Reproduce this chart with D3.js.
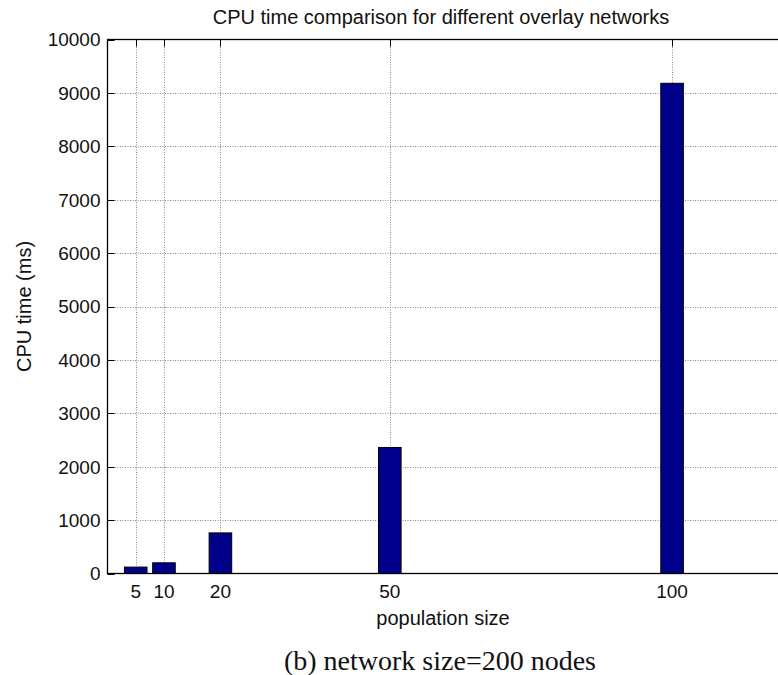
<!DOCTYPE html>
<html>
<head>
<meta charset="utf-8">
<script src="https://cdn.jsdelivr.net/npm/d3@7"></script>
<style>
  body { margin: 0; background: white; }
  text { font-family: "Liberation Sans", Arial, sans-serif; fill: #111; }
</style>
</head>
<body>
<div id="container"></div>
<script>
// data
let populationSizes = [5, 10, 20, 50, 100];
let cpuTimes = [120, 200, 760, 2360, 9180];
let yTickValues = [0, 1000, 2000, 3000, 4000, 5000, 6000, 7000, 8000, 9000, 10000];

let w = 778;
let h = 675;

let viz = d3.select("#container")
  .append("svg")
    .attr("width", w)
    .attr("height", h)
    .style("background-color", "white")
;

// axes box (right edge falls just outside the picture)
let plotLeft = 107.5, plotRight = 785, plotTop = 39.5, plotBottom = 573.5;

let xScale = d3.scaleLinear().domain([0, 120]).range([plotLeft, plotRight]);
let yScale = d3.scaleLinear().domain([0, 10000]).range([plotBottom, plotTop]);

let barWidth = 4; // in data units

let data = populationSizes.map(function(p, i) {
  return {pop: p, time: cpuTimes[i]};
});

// grid lines
let grid = viz.append("g").attr("class", "grid");
grid.selectAll(".hgrid").data(yTickValues.slice(1, -1)).enter()
  .append("line")
    .attr("x1", plotLeft)
    .attr("x2", plotRight)
    .attr("y1", function(d) { return Math.round(yScale(d)) + 0.5; })
    .attr("y2", function(d) { return Math.round(yScale(d)) + 0.5; })
    .attr("stroke", "#888")
    .attr("stroke-dasharray", "1,1.5")
;
grid.selectAll(".vgrid").data(populationSizes).enter()
  .append("line")
    .attr("x1", function(d) { return Math.round(xScale(d)) + 0.5; })
    .attr("x2", function(d) { return Math.round(xScale(d)) + 0.5; })
    .attr("y1", plotTop)
    .attr("y2", plotBottom)
    .attr("stroke", "#888")
    .attr("stroke-dasharray", "1,1.5")
;

// bars
viz.append("g").attr("class", "bars")
  .selectAll("rect").data(data).enter()
  .append("rect")
    .attr("x", function(d) { return xScale(d.pop - barWidth / 2); })
    .attr("width", function(d) { return xScale(d.pop + barWidth / 2) - xScale(d.pop - barWidth / 2); })
    .attr("y", function(d) { return yScale(d.time); })
    .attr("height", function(d) { return yScale(0) - yScale(d.time); })
    .attr("fill", "#00008a")
    .attr("stroke", "black")
    .attr("stroke-width", 1)
;

// matlab style inward ticks
let tickLen = 7;
let ticks = viz.append("g").attr("class", "ticks").attr("stroke", "black");
ticks.selectAll(".yt").data(yTickValues).enter()
  .append("line")
    .attr("x1", plotLeft)
    .attr("x2", plotLeft + tickLen)
    .attr("y1", function(d) { return Math.round(yScale(d)) + 0.5; })
    .attr("y2", function(d) { return Math.round(yScale(d)) + 0.5; })
;
ticks.selectAll(".xt").data(populationSizes).enter()
  .append("line")
    .attr("x1", function(d) { return Math.round(xScale(d)) + 0.5; })
    .attr("x2", function(d) { return Math.round(xScale(d)) + 0.5; })
    .attr("y1", plotTop)
    .attr("y2", plotTop + tickLen)
;

// box
viz.append("rect")
  .attr("x", plotLeft)
  .attr("y", plotTop)
  .attr("width", plotRight - plotLeft)
  .attr("height", plotBottom - plotTop)
  .attr("fill", "none")
  .attr("stroke", "black")
  .attr("stroke-width", 1.3)
;

// tick labels
viz.append("g").selectAll("text").data(yTickValues).enter()
  .append("text")
    .attr("x", plotLeft - 7)
    .attr("y", function(d) { return yScale(d) + 6.8; })
    .attr("text-anchor", "end")
    .style("font-size", "19px")
    .text(function(d) { return d; })
;
viz.append("g").selectAll("text").data(populationSizes).enter()
  .append("text")
    .attr("x", function(d) { return xScale(d); })
    .attr("y", 597.5)
    .attr("text-anchor", "middle")
    .style("font-size", "19px")
    .text(function(d) { return d; })
;

// labels
viz.append("text")
  .attr("x", 441)
  .attr("y", 24)
  .attr("text-anchor", "middle")
  .style("font-size", "20px")
  .text("CPU time comparison for different overlay networks");

viz.append("text")
  .attr("x", 443)
  .attr("y", 625)
  .attr("text-anchor", "middle")
  .style("font-size", "20px")
  .text("population size");

viz.append("text")
  .attr("transform", "translate(31," + ((plotTop + plotBottom) / 2) + ") rotate(-90)")
  .attr("text-anchor", "middle")
  .style("font-size", "20px")
  .text("CPU time (ms)");

viz.append("text")
  .attr("x", 440)
  .attr("y", 670)
  .attr("text-anchor", "middle")
  .style("font-family", "'Liberation Serif', 'Times New Roman', serif")
  .style("font-size", "28px")
  .text("(b) network size=200 nodes");
</script>
</body>
</html>
